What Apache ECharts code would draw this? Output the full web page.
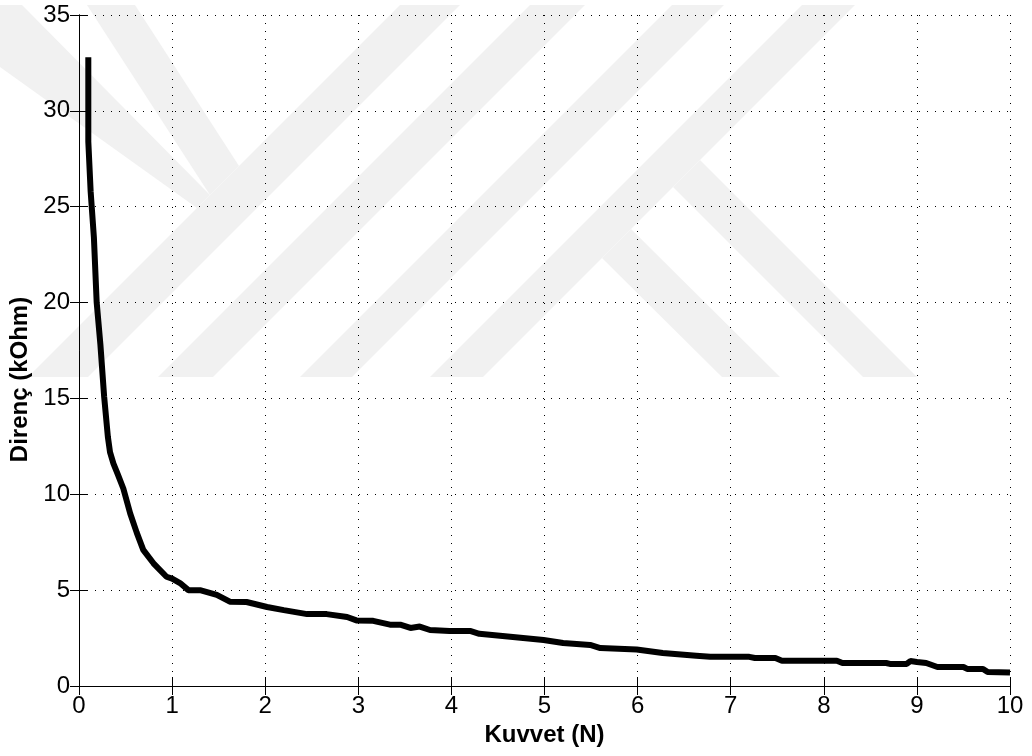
<!DOCTYPE html>
<html>
<head>
<meta charset="utf-8">
<script src="https://cdn.jsdelivr.net/npm/echarts@6/dist/echarts.min.js"></script>
<style>
html,body{margin:0;padding:0;background:#fff;}
#chart{width:1032px;height:756px;}
</style>
</head>
<body>
<div id="chart"></div>
<script>
// ---- data ----
const forceN = [0.10, 0.10, 0.125, 0.16, 0.19, 0.23, 0.27, 0.31, 0.333, 0.37, 0.42, 0.476, 0.55, 0.62, 0.69, 0.80, 0.94, 1.00, 1.085, 1.175, 1.30, 1.48, 1.62, 1.80, 2.02, 2.20, 2.45, 2.66, 2.88, 2.98, 3.16, 3.34, 3.45, 3.56, 3.66, 3.77, 3.98, 4.20, 4.30, 4.66, 4.99, 5.20, 5.49, 5.60, 5.99, 6.27, 6.63, 6.78, 7.20, 7.26, 7.48, 7.55, 8.14, 8.20, 8.67, 8.71, 8.89, 8.93, 9.00, 9.10, 9.22, 9.50, 9.54, 9.71, 9.76, 10.00];
const resistance = [32.8, 28.4, 25.8, 23.4, 20.0, 17.8, 15.1, 13.0, 12.2, 11.6, 11.0, 10.3, 9.0, 8.0, 7.1, 6.4, 5.7, 5.6, 5.37, 5.0, 5.0, 4.75, 4.4, 4.38, 4.12, 3.96, 3.75, 3.75, 3.6, 3.42, 3.4, 3.2, 3.2, 3.03, 3.1, 2.92, 2.87, 2.87, 2.72, 2.56, 2.4, 2.24, 2.14, 1.98, 1.9, 1.72, 1.58, 1.52, 1.52, 1.46, 1.46, 1.32, 1.32, 1.2, 1.2, 1.15, 1.15, 1.3, 1.25, 1.2, 0.99, 0.99, 0.89, 0.89, 0.73, 0.70];
const xTicks = [0, 1, 2, 3, 4, 5, 6, 7, 8, 9, 10];
const yTicks = [0, 5, 10, 15, 20, 25, 30, 35];
const xName = 'Kuvvet (N)';
const yName = 'Direnç (kOhm)';

// ---- background watermark (decoration, pixel polygons) ----
function slash(a, b) { // "/" band between lines x+y=a and x+y=b, from y=5 to y=377
  return [[a - 5, 5], [b - 5, 5], [b - 377, 377], [a - 377, 377]];
}
const watermarkShapes = [
  slash(405, 465),
  slash(535, 590),
  slash(677, 729),
  slash(807, 860),
  [[87, 5], [135, 5], [239, 166], [210, 195]],
  [[0, 5], [22, 5], [210, 195], [197, 208], [0, 67]],
  [[700, 160], [917, 377], [863, 377], [673, 187]],
  [[631, 229], [780, 377], [722, 377], [602, 258]]
];

const FONT = '"Liberation Sans", Arial, Helvetica, sans-serif';
const chart = echarts.init(document.getElementById('chart'), null, {renderer: 'canvas'});

const axisLineStyle = {show: true, lineStyle: {color: '#000', width: 1}};
const tickStyle = {show: true, inside: true, length: 9, lineStyle: {color: '#000', width: 1}};
const gridLine = {show: true, lineStyle: {color: '#000', width: 1, type: [1, 7]}};

chart.setOption({
  animation: false,
  backgroundColor: '#fff',
  graphic: watermarkShapes.map(pts => ({
    type: 'polygon', z: -10, silent: true,
    shape: {points: pts},
    style: {fill: '#f1f1f1'}
  })),
  grid: {left: 79, right: 22, top: 15, bottom: 70, containLabel: false},
  xAxis: [{
    type: 'value', position: 'bottom', min: xTicks[0], max: xTicks[xTicks.length - 1], interval: 1,
    name: xName, nameLocation: 'middle', nameGap: 37,
    nameTextStyle: {fontFamily: FONT, fontSize: 24, fontWeight: 'bold', color: '#000'},
    axisLine: axisLineStyle, axisTick: tickStyle, splitLine: gridLine,
    axisLabel: {fontFamily: FONT, fontSize: 24, color: '#000', margin: 8}
  }, {
    type: 'value', position: 'top', min: xTicks[0], max: xTicks[xTicks.length - 1], interval: 1,
    axisLine: axisLineStyle, axisTick: tickStyle, splitLine: {show: false},
    axisLabel: {show: false}
  }],
  yAxis: [{
    type: 'value', position: 'left', min: yTicks[0], max: yTicks[yTicks.length - 1], interval: 5,
    name: yName, nameLocation: 'middle', nameGap: 43,
    nameTextStyle: {fontFamily: FONT, fontSize: 24, fontWeight: 'bold', color: '#000', padding: [0, 58, 0, 0]},
    axisLine: axisLineStyle, axisTick: tickStyle, splitLine: gridLine,
    axisLabel: {fontFamily: FONT, fontSize: 24, color: '#000', margin: 9}
  }, {
    type: 'value', position: 'right', min: yTicks[0], max: yTicks[yTicks.length - 1], interval: 5,
    axisLine: axisLineStyle, axisTick: tickStyle, splitLine: {show: false},
    axisLabel: {show: false}
  }],
  series: [{
    type: 'line',
    xAxisIndex: 0, yAxisIndex: 0,
    data: forceN.map((x, i) => [x, resistance[i]]),
    showSymbol: false, symbol: 'none',
    lineStyle: {color: '#000', width: 6},
    z: 5
  }]
});
</script>
</body>
</html>
